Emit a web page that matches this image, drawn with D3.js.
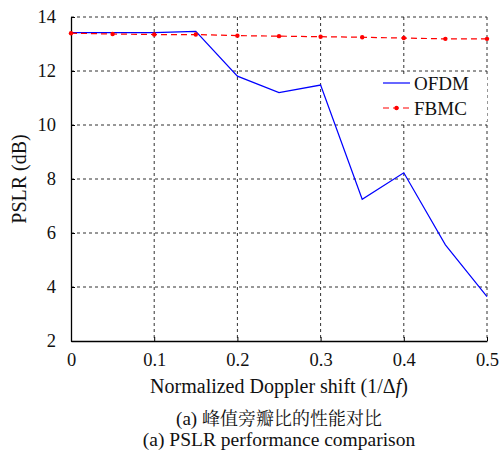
<!DOCTYPE html>
<html>
<head>
<meta charset="utf-8">
<script src="https://cdn.jsdelivr.net/npm/d3@7"></script>
</head>
<body style="margin:0;background:#fff">
<svg id="chart" width="499" height="453"></svg>
<script>
// Normalized Doppler shift values (1/Δf)
const dopplerShift = [0, 0.05, 0.1, 0.15, 0.2, 0.25, 0.3, 0.35, 0.4, 0.45, 0.5];
// PSLR in dB for each scheme
const ofdmPSLR = [13.42, 13.42, 13.42, 13.47, 11.81, 11.2, 11.48, 7.25, 8.23, 5.56, 3.64];
const fbmcPSLR = [13.4, 13.37, 13.35, 13.35, 13.31, 13.29, 13.27, 13.25, 13.22, 13.19, 13.19];
const xTicks = [0, 0.1, 0.2, 0.3, 0.4, 0.5];
const yTicks = [2, 4, 6, 8, 10, 12, 14];
const seriesNames = ["OFDM", "FBMC"];

const SERIF = '"Liberation Serif", "Times New Roman", serif';
const CJK = '"Noto Serif CJK SC", "Noto Sans CJK SC", serif';

const svg = d3.select("#chart");
const plotL = 71, plotR = 487, plotT = 17, plotB = 341;

const x = d3.scaleLinear().domain([0, 0.5]).range([plotL, plotR]);
const y = d3.scaleLinear().domain([2, 14]).range([plotB, plotT]);

const gridStyle = sel => sel.attr("stroke", "#1a1a1a").attr("stroke-width", 0.9)
  .attr("stroke-dasharray", "3,3");

// dashed grid (also forms the top and right frame)
const grid = svg.append("g").call(gridStyle);
grid.selectAll("line.v").data(xTicks.filter(d => d > 0)).join("line").attr("class", "v")
  .attr("x1", d => x(d)).attr("x2", d => x(d)).attr("y1", plotT).attr("y2", plotB);
grid.selectAll("line.h").data(yTicks.filter(d => d > 2)).join("line").attr("class", "h")
  .attr("x1", plotL).attr("x2", plotR).attr("y1", d => y(d)).attr("y2", d => y(d));

// axes with inward ticks
const xAxis = svg.append("g").attr("transform", `translate(0,${plotB})`)
  .call(d3.axisBottom(x).tickValues(xTicks).tickSizeInner(-4).tickSizeOuter(0).tickPadding(12)
    .tickFormat(d => d === 0 ? "0" : d3.format(".1f")(d)));
const yAxis = svg.append("g").attr("transform", `translate(${plotL},0)`)
  .call(d3.axisLeft(y).tickValues(yTicks).tickSizeInner(-4).tickSizeOuter(0).tickPadding(15));
[xAxis, yAxis].forEach(a => {
  a.select(".domain").attr("stroke", "#000").attr("stroke-width", 1.3);
  a.selectAll(".tick line").attr("stroke", "#000").attr("stroke-width", 1);
  a.selectAll(".tick text").style("font-size", "18.5px").style("font-family", SERIF).attr("fill", "#111");
});

// legend background over the grid
svg.append("rect").attr("x", 378).attr("y", 74).attr("width", plotR - 378).attr("height", 47).attr("fill", "#fff");

// data lines
const line = d3.line().x((d, i) => x(dopplerShift[i])).y(d => y(d));
svg.append("path").datum(ofdmPSLR).attr("d", line).attr("fill", "none")
  .attr("stroke", "#0000ff").attr("stroke-width", 1.2);
svg.append("path").datum(fbmcPSLR).attr("d", line).attr("fill", "none")
  .attr("stroke", "#ff0000").attr("stroke-width", 1.2).attr("stroke-dasharray", "6,4");
svg.selectAll("circle.fbmc").data(fbmcPSLR).join("circle").attr("class", "fbmc")
  .attr("cx", (d, i) => x(dopplerShift[i])).attr("cy", d => y(d)).attr("r", 2.2).attr("fill", "#ff0000");

// legend entries
const lg = svg.append("g").style("font-family", SERIF).style("font-size", "19px");
lg.append("line").attr("x1", 383).attr("x2", 410).attr("y1", 83).attr("y2", 83).attr("stroke", "#0000ff").attr("stroke-width", 1.2);
lg.append("text").attr("x", 414).attr("y", 89.5).attr("fill", "#111").text(seriesNames[0]);
lg.append("line").attr("x1", 383).attr("x2", 410).attr("y1", 108).attr("y2", 108).attr("stroke", "#ff0000").attr("stroke-width", 1.2).attr("stroke-dasharray", "6,4");
lg.append("circle").attr("cx", 396.5).attr("cy", 108).attr("r", 2.2).attr("fill", "#ff0000");
lg.append("text").attr("x", 414).attr("y", 114.5).attr("fill", "#111").text(seriesNames[1]);

// axis titles
const xTitle = svg.append("text").attr("x", (plotL + plotR) / 2).attr("y", 393).attr("text-anchor", "middle")
  .attr("fill", "#111").style("font-family", SERIF).style("font-size", "20px");
xTitle.append("tspan").text("Normalized Doppler shift (1/Δ");
xTitle.append("tspan").attr("font-style", "italic").text("f");
xTitle.append("tspan").text(")");
svg.append("text").attr("transform", `translate(25.5,${(plotT + plotB) / 2}) rotate(-90)`)
  .attr("text-anchor", "middle").attr("fill", "#111").style("font-family", SERIF).style("font-size", "20px").text("PSLR (dB)");

// captions
const cap = svg.append("text").attr("x", 279).attr("y", 425).attr("text-anchor", "middle")
  .attr("fill", "#111").style("font-family", SERIF).style("font-size", "19px");
cap.append("tspan").text("(a) ");
cap.append("tspan").style("font-family", CJK).style("font-size", "18px").text("峰值旁瓣比的性能对比");
svg.append("text").attr("x", 279).attr("y", 446).attr("text-anchor", "middle")
  .attr("fill", "#111").style("font-family", SERIF).style("font-size", "19.5px")
  .text("(a) PSLR performance comparison");
</script>
</body>
</html>
